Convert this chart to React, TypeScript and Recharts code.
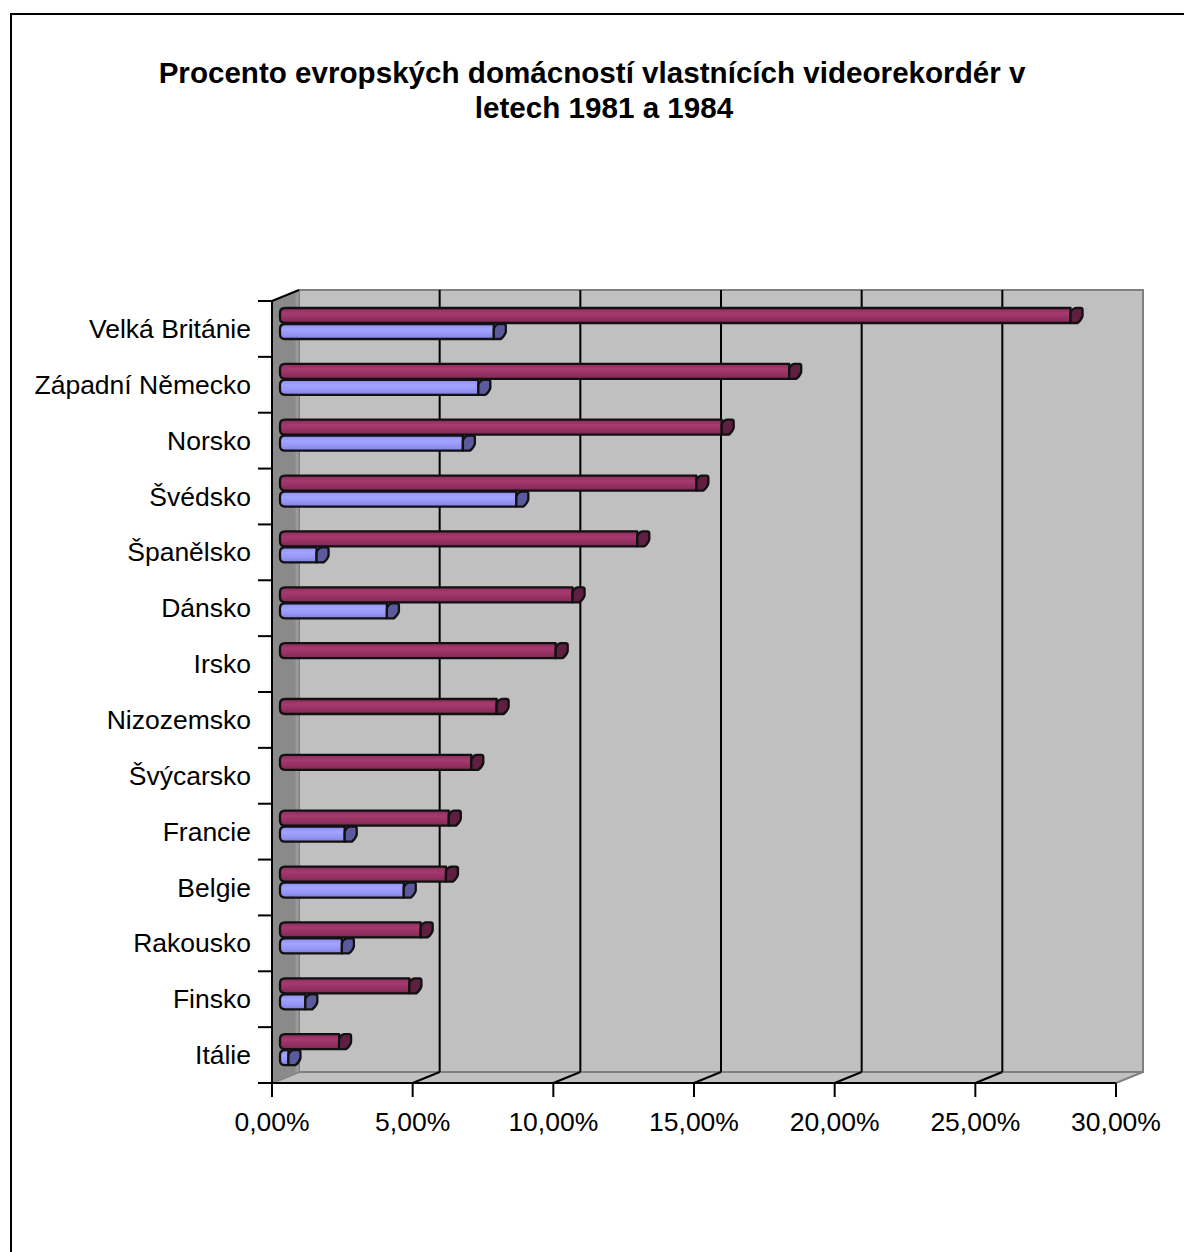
import React from 'react';
import { BarChart, Bar, XAxis, YAxis, CartesianGrid } from 'recharts';

const categories = [
  'Velká Británie',
  'Západní Německo',
  'Norsko',
  'Švédsko',
  'Španělsko',
  'Dánsko',
  'Irsko',
  'Nizozemsko',
  'Švýcarsko',
  'Francie',
  'Belgie',
  'Rakousko',
  'Finsko',
  'Itálie',
];
const share1984 = [28.1, 18.1, 15.7, 14.8, 12.7, 10.4, 9.8, 7.7, 6.8, 6.0, 5.9, 5.0, 4.6, 2.1];
const share1981 = [7.6, 7.05, 6.5, 8.4, 1.3, 3.8, null, null, null, 2.3, 4.4, 2.2, 0.9, 0.3];
const xTicks = [0, 5, 10, 15, 20, 25, 30];
const titleLines = ['Procento evropských domácností vlastnících videorekordér v', 'letech 1981 a 1984'];

const data = categories.map((c, i) => ({ country: c, y1984: share1984[i], y1981: share1981[i] }));

const FONT = '"Liberation Sans", Arial, Helvetica, sans-serif';
const CHART_W = 1172;
const CHART_H = 1237;
const MARGIN = { top: 286, right: 68, bottom: 109, left: 0 };
const Y_AXIS_W = 260;
const X_AXIS_H = 60;
const PLOT_W = CHART_W - MARGIN.left - MARGIN.right - Y_AXIS_W;
const PLOT_H = CHART_H - MARGIN.top - MARGIN.bottom - X_AXIS_H;
const BAND = PLOT_H / categories.length;
const DX = 27;
const DY = 11;

const fmtPct = (v: number) => v.toFixed(2).replace('.', ',') + '%';

function GridLine(props: any) {
  const { x1, y1, y2, index } = props;
  const w = PLOT_W;
  const h = y2 - y1;
  const last = xTicks.length - 1;
  if (index === 0) {
    return (
      <g>
        <rect x={x1 + DX} y={y1 - DY} width={w} height={h} fill="#c0c0c0" stroke="#808080" strokeWidth={2} />
        <polygon
          points={`${x1},${y2} ${x1 + DX},${y2 - DY} ${x1 + DX + w},${y2 - DY} ${x1 + w},${y2}`}
          fill="#c0c0c0"
          stroke="#808080"
          strokeWidth={2}
        />
        <polygon
          points={`${x1},${y1} ${x1 + DX},${y1 - DY} ${x1 + DX},${y2 - DY} ${x1},${y2}`}
          fill="#8a8a8a"
        />
        <line x1={x1 + DX - 2} y1={y1 - DY} x2={x1 + DX - 2} y2={y2 - DY} stroke="#9a9a9a" strokeWidth={3} />
        <line x1={x1} y1={y1} x2={x1 + DX} y2={y1 - DY} stroke="#000" strokeWidth={2} />
      </g>
    );
  }
  if (index === last) return <g />;
  return (
    <g>
      <line x1={x1 + DX} y1={y1 - DY} x2={x1 + DX} y2={y2 - DY} stroke="#000" strokeWidth={2} />
      <line x1={x1} y1={y2} x2={x1 + DX} y2={y2 - DY} stroke="#000" strokeWidth={2} />
    </g>
  );
}

function CountryTick(props: any) {
  const { x, y, payload, index } = props;
  const axisX = x + 21;
  return (
    <g>
      <line x1={axisX - 14} y1={y - BAND / 2} x2={axisX} y2={y - BAND / 2} stroke="#000" strokeWidth={2} />
      {index === categories.length - 1 && (
        <line x1={axisX - 14} y1={y + BAND / 2} x2={axisX} y2={y + BAND / 2} stroke="#000" strokeWidth={2} />
      )}
      <text x={x} y={y} dy={9} textAnchor="end" fill="#000" fontSize={26.5} fontFamily={FONT}>
        {payload.value}
      </text>
    </g>
  );
}

function makeCylinder(frontId: string, capFill: string) {
  return function Cylinder(props: any) {
    const { x, y, width, height, value } = props;
    if (value == null || !width || width <= 0) return <g />;
    const x0 = x + 8;
    const y0 = y - 5;
    const h = height;
    const xe = x0 + width;
    const r = Math.min(5, h / 2);
    const front = `M${xe},${y0} L${x0 + r},${y0} Q${x0},${y0} ${x0},${y0 + r} L${x0},${y0 + h - r} Q${x0},${y0 + h} ${x0 + r},${y0 + h} L${xe},${y0 + h} Z`;
    const cap = `M${xe},${y0 + h} L${xe},${y0 + 5} Q${xe + 1},${y0 + 1} ${xe + 5},${y0} L${xe + 10},${y0} Q${xe + 12},${y0} ${xe + 12},${y0 + 2} L${xe + 12},${y0 + h - 7} Q${xe + 11},${y0 + h - 3} ${xe + 7},${y0 + h} Z`;
    return (
      <g>
        <path d={front} fill={`url(#${frontId})`} stroke="#111" strokeWidth={2.3} strokeLinejoin="round" />
        <path d={cap} fill={capFill} stroke="#111" strokeWidth={2.3} strokeLinejoin="round" />
      </g>
    );
  };
}

const MagentaBar = makeCylinder('gradMag', '#5e1f40');
const BlueBar = makeCylinder('gradBlue', '#5a5a9c');

export default function App() {
  return (
    <div
      style={{
        position: 'absolute',
        left: 10,
        top: 13,
        width: 1174,
        height: 1239,
        borderLeft: '2px solid #000',
        borderTop: '2px solid #000',
        boxSizing: 'border-box',
        background: '#fff',
        overflow: 'hidden',
      }}
    >
      <div
        style={{
          position: 'absolute',
          left: 0,
          width: 1172,
          top: 40,
          textAlign: 'center',
          fontFamily: FONT,
          fontWeight: 'bold',
          fontSize: 29.6,
          lineHeight: '35px',
          color: '#000',
        }}
      >
        {titleLines.map((t, i) => (
          <div key={i} style={{ transform: i === 0 ? 'translateX(-6px)' : 'translateX(6px)' }}>{t}</div>
        ))}
      </div>
      <div style={{ position: 'absolute', left: 0, top: 0 }}>
        <BarChart
          width={CHART_W}
          height={CHART_H}
          data={data}
          layout="vertical"
          margin={MARGIN}
          barSize={15}
          barGap={1}
        >
          <defs>
            <linearGradient id="gradMag" x1="0" y1="0" x2="0" y2="1">
              <stop offset="0" stopColor="#8b2c5c" />
              <stop offset="0.35" stopColor="#a63a70" />
              <stop offset="0.7" stopColor="#93305f" />
              <stop offset="1" stopColor="#7d2852" />
            </linearGradient>
            <linearGradient id="gradBlue" x1="0" y1="0" x2="0" y2="1">
              <stop offset="0" stopColor="#8c8cf0" />
              <stop offset="0.35" stopColor="#a3a3ff" />
              <stop offset="0.7" stopColor="#9494f5" />
              <stop offset="1" stopColor="#8080e0" />
            </linearGradient>
          </defs>
          <CartesianGrid horizontal={false} vertical={(p: any) => <GridLine {...p} />} stroke="none" />
          <XAxis
            type="number"
            domain={[0, 30]}
            ticks={xTicks}
            interval={0}
            tickFormatter={fmtPct}
            height={X_AXIS_H}
            axisLine={{ stroke: '#000', strokeWidth: 2 }}
            tickLine={{ stroke: '#000', strokeWidth: 2 }}
            tickSize={14}
            tickMargin={15}
            tick={{ fill: '#000', fontSize: 26.5, fontFamily: FONT }}
          />
          <YAxis
            type="category"
            dataKey="country"
            width={Y_AXIS_W}
            interval={0}
            axisLine={{ stroke: '#000', strokeWidth: 2 }}
            tickLine={false}
            tickSize={14}
            tickMargin={7}
            tick={<CountryTick />}
          />
          <Bar dataKey="y1984" isAnimationActive={false} shape={<MagentaBar />} />
          <Bar dataKey="y1981" isAnimationActive={false} shape={<BlueBar />} />
        </BarChart>
      </div>
    </div>
  );
}
